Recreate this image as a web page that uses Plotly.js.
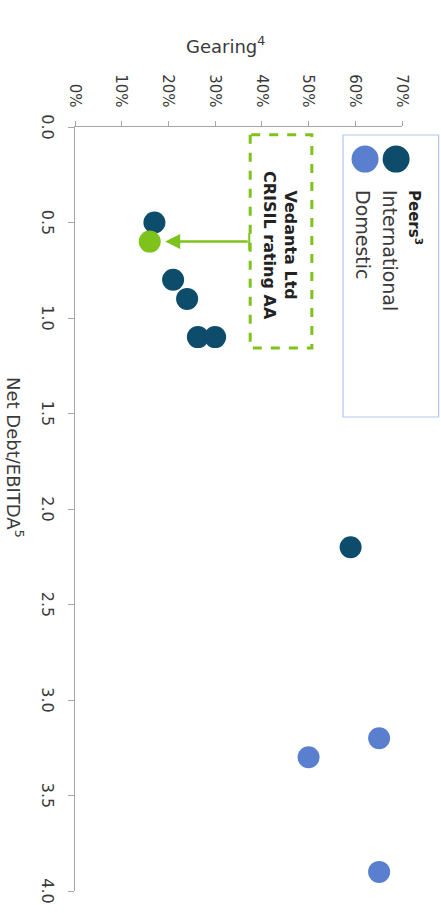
<!DOCTYPE html>
<html>
<head>
<meta charset="utf-8">
<script src="https://cdn.plot.ly/plotly-3.0.1.min.js"></script>
<style>
  html, body { margin: 0; padding: 0; background: #ffffff; overflow: hidden; }
  #wrap { position: absolute; left: 0; top: 0; width: 441px; height: 913px; overflow: hidden; }
  #chart {
    position: absolute; left: 0; top: 0;
    width: 913px; height: 441px;
    transform-origin: 0 0;
    transform: translate(441px, 0) rotate(90deg);
  }
</style>
</head>
<body>
<div id="wrap"><div id="chart"></div></div>
<script>
// ---- data ----
const intlNetDebt = [0.50, 0.80, 0.90, 1.10, 1.10, 2.20];
const intlGearing = [0.17, 0.21, 0.24, 0.263, 0.30, 0.59];
const domNetDebt = [3.20, 3.30, 3.90];
const domGearing = [0.651, 0.50, 0.651];
const vedantaNetDebt = [0.60];
const vedantaGearing = [0.16];
const seriesNames = ["International", "Domestic", "Vedanta Ltd"];
const xTickVals = [0, 0.5, 1.0, 1.5, 2.0, 2.5, 3.0, 3.5, 4.0];
const yTickVals = [0, 0.1, 0.2, 0.3, 0.4, 0.5, 0.6, 0.7];

// ---- styles ----
const darkTeal = "#0d4c6b";
const lightBlue = "#5b7fcf";
const green = "#7ec31c";
const axisGrey = "#a6a6a6";
const textCol = "#3a3a3a";
const FONT = "DejaVu Sans, Verdana, sans-serif";

const traces = [
  { type: "scatter", mode: "markers", name: seriesNames[0],
    x: intlNetDebt, y: intlGearing,
    marker: { size: 22, color: darkTeal }, showlegend: false, hoverinfo: "skip" },
  { type: "scatter", mode: "markers", name: seriesNames[1],
    x: domNetDebt, y: domGearing,
    marker: { size: 22, color: lightBlue }, showlegend: false, hoverinfo: "skip" },
  { type: "scatter", mode: "markers", name: seriesNames[2],
    x: vedantaNetDebt, y: vedantaGearing,
    marker: { size: 22, color: green }, showlegend: false, hoverinfo: "skip" }
];

const layout = {
  width: 913, height: 441,
  margin: { l: 127, r: 22, t: 39, b: 75 },
  paper_bgcolor: "#ffffff", plot_bgcolor: "#ffffff",
  font: { family: FONT, color: textCol },
  xaxis: {
    range: [0, 4], tickvals: xTickVals, tickformat: ".1f",
    showgrid: false, zeroline: false,
    showline: true, linecolor: axisGrey, linewidth: 1.5,
    ticks: "outside", ticklen: 6, tickcolor: axisGrey, tickwidth: 1,
    tickfont: { size: 16, color: textCol, family: FONT },
    ticklabelstandoff: 6
  },
  yaxis: {
    range: [0, 0.7], tickvals: yTickVals, tickformat: ".0%",
    showgrid: false, zeroline: false,
    showline: true, linecolor: axisGrey, linewidth: 1.5,
    ticks: "outside", ticklen: 5, tickcolor: axisGrey, tickwidth: 1,
    tickfont: { size: 15, color: textCol, family: FONT },
    ticklabelstandoff: 10
  },
  shapes: [
    // dashed callout box
    { type: "rect", xref: "x", yref: "y", x0: 0.04, x1: 1.157, y0: 0.375, y1: 0.507,
      line: { color: green, width: 3, dash: "dash" }, fillcolor: "rgba(0,0,0,0)" },
    // T-end of the arrow
    { type: "line", xref: "x", yref: "y", x0: 0.555, x1: 0.645, y0: 0.373, y1: 0.373,
      line: { color: green, width: 2 } },
    // legend frame
    { type: "rect", xref: "paper", yref: "paper", x0: 0.0105, x1: 0.3796, y0: 0.8196, y1: 1.112,
      line: { color: "#b4c7e7", width: 1.2 }, fillcolor: "rgba(0,0,0,0)" },
    // legend markers
    { type: "circle", xref: "paper", yref: "paper", xsizemode: "pixel", ysizemode: "pixel",
      xanchor: 0.042, yanchor: 0.982, x0: -13.5, x1: 13.5, y0: -13.5, y1: 13.5,
      fillcolor: darkTeal, line: { width: 0 } },
    { type: "circle", xref: "paper", yref: "paper", xsizemode: "pixel", ysizemode: "pixel",
      xanchor: 0.042, yanchor: 0.887, x0: -13.5, x1: 13.5, y0: -13.5, y1: 13.5,
      fillcolor: lightBlue, line: { width: 0 } }
  ],
  annotations: [
    // axis titles
    { text: "Gearing<sup>4</sup>", xref: "paper", yref: "paper", x: -0.1073, y: 0.4587,
      xanchor: "center", yanchor: "middle", textangle: -90, showarrow: false,
      font: { size: 18, color: textCol, family: FONT } },
    { text: "Net Debt/EBITDA<sup>5</sup>", xref: "paper", yref: "paper", x: 0.433, y: -0.1835,
      xanchor: "center", yanchor: "middle", showarrow: false,
      font: { size: 18, color: textCol, family: FONT } },
    // callout text
    { text: "<b>Vedanta Ltd</b><br><b>CRISIL rating AA</b>", xref: "x", yref: "y",
      x: 0.623, y: 0.439, xanchor: "center", yanchor: "middle", showarrow: false,
      font: { size: 16, color: "#222222", family: FONT } },
    // arrow
    { text: "", xref: "x", yref: "y", x: 0.60, y: 0.193, axref: "x", ayref: "y",
      ax: 0.60, ay: 0.373, showarrow: true, arrowhead: 2, arrowsize: 1.2,
      arrowwidth: 2.5, arrowcolor: green },
    // legend texts
    { text: "<b>Peers<sup>3</sup></b>", xref: "paper", yref: "paper", x: 0.0798, y: 1.04,
      xanchor: "left", yanchor: "middle", showarrow: false,
      font: { size: 15, color: "#222222", family: FONT } },
    { text: seriesNames[0], xref: "paper", yref: "paper", x: 0.0798, y: 0.963,
      xanchor: "left", yanchor: "middle", showarrow: false,
      font: { size: 19, color: textCol, family: FONT } },
    { text: seriesNames[1], xref: "paper", yref: "paper", x: 0.0798, y: 0.881,
      xanchor: "left", yanchor: "middle", showarrow: false,
      font: { size: 19, color: textCol, family: FONT } }
  ]
};

Plotly.newPlot("chart", traces, layout, { displayModeBar: false, staticPlot: true, responsive: false });
</script>
</body>
</html>
